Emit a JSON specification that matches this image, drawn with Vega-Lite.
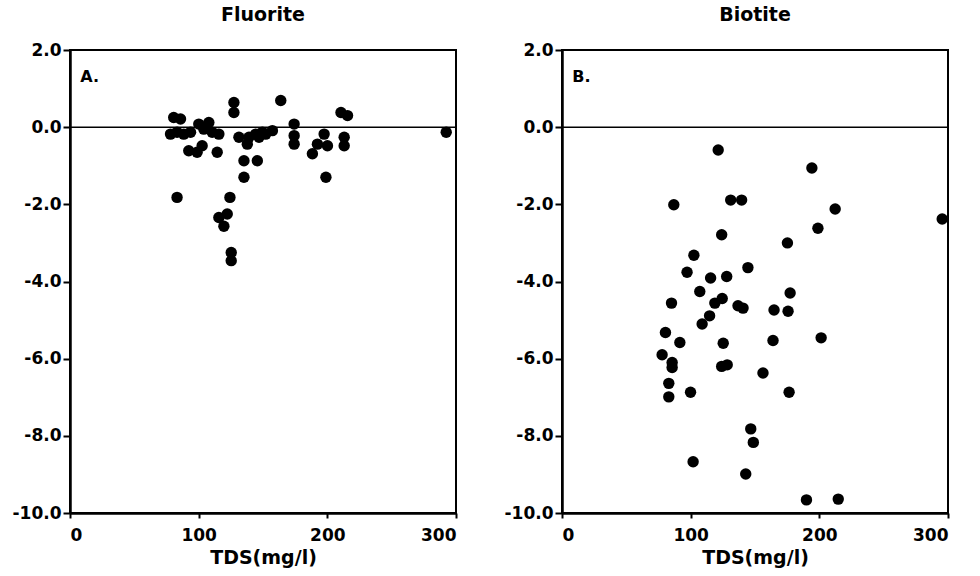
{
  "$schema": "https://vega.github.io/schema/vega-lite/v6.json",
  "background": "white",
  "padding": {"left": 11, "top": 5, "right": 5, "bottom": 5},
  "bounds": "flush",
  "spacing": 106,
  "config": {
    "font": "DejaVu Sans",
    "view": {"stroke": "black", "strokeWidth": 2},
    "axis": {
      "grid": false,
      "domainColor": "black",
      "domainWidth": 2.5,
      "tickColor": "black",
      "tickWidth": 2,
      "labelColor": "black",
      "labelFont": "DejaVu Sans",
      "labelFontWeight": "bold",
      "labelFontSize": 17,
      "titleColor": "black",
      "titleFont": "DejaVu Sans",
      "titleFontWeight": "bold",
      "titleFontSize": 19
    },
    "title": {"font": "DejaVu Sans", "fontWeight": "bold", "fontSize": 19, "color": "black", "offset": 16}
  },
  "datasets": {
    "fluorite": [
      {"tds": 80.6, "si": 0.25}, {"tds": 85.9, "si": 0.21}, {"tds": 78.1, "si": -0.18}, {"tds": 83.2, "si": -0.13},
      {"tds": 88.4, "si": -0.18}, {"tds": 93.7, "si": -0.13}, {"tds": 100.1, "si": 0.08}, {"tds": 107.9, "si": 0.12},
      {"tds": 104.0, "si": -0.05}, {"tds": 110.5, "si": -0.13}, {"tds": 115.7, "si": -0.18}, {"tds": 92.3, "si": -0.61},
      {"tds": 98.8, "si": -0.65}, {"tds": 102.7, "si": -0.48}, {"tds": 114.4, "si": -0.65}, {"tds": 127.4, "si": 0.64},
      {"tds": 127.4, "si": 0.38}, {"tds": 131.3, "si": -0.26}, {"tds": 137.8, "si": -0.44}, {"tds": 139.1, "si": -0.26},
      {"tds": 144.3, "si": -0.18}, {"tds": 149.5, "si": -0.13}, {"tds": 135.2, "si": -0.87}, {"tds": 145.6, "si": -0.87},
      {"tds": 135.2, "si": -1.30}, {"tds": 146.9, "si": -0.26}, {"tds": 152.1, "si": -0.18}, {"tds": 157.3, "si": -0.09},
      {"tds": 163.8, "si": 0.69}, {"tds": 174.2, "si": 0.08}, {"tds": 174.2, "si": -0.22}, {"tds": 174.2, "si": -0.44},
      {"tds": 197.5, "si": -0.18}, {"tds": 192.3, "si": -0.44}, {"tds": 200.1, "si": -0.48}, {"tds": 188.4, "si": -0.69},
      {"tds": 210.6, "si": 0.38}, {"tds": 215.7, "si": 0.30}, {"tds": 213.1, "si": -0.26}, {"tds": 213.1, "si": -0.48},
      {"tds": 198.9, "si": -1.30}, {"tds": 292.4, "si": -0.13}, {"tds": 83.2, "si": -1.82}, {"tds": 124.3, "si": -1.82},
      {"tds": 115.7, "si": -2.34}, {"tds": 122.2, "si": -2.25}, {"tds": 119.6, "si": -2.57}, {"tds": 125.3, "si": -3.25},
      {"tds": 125.3, "si": -3.46}
    ],
    "biotite": [
      {"tds": 121.4, "si": -0.59}, {"tds": 86.9, "si": -2.01}, {"tds": 131.1, "si": -1.89}, {"tds": 139.6, "si": -1.89},
      {"tds": 124.1, "si": -2.79}, {"tds": 102.5, "si": -3.32}, {"tds": 97.2, "si": -3.76}, {"tds": 115.5, "si": -3.91},
      {"tds": 128.0, "si": -3.87}, {"tds": 144.5, "si": -3.64}, {"tds": 107.1, "si": -4.26}, {"tds": 85.1, "si": -4.56},
      {"tds": 118.8, "si": -4.56}, {"tds": 124.5, "si": -4.44}, {"tds": 136.8, "si": -4.63}, {"tds": 140.7, "si": -4.69},
      {"tds": 114.7, "si": -4.89}, {"tds": 108.9, "si": -5.10}, {"tds": 80.4, "si": -5.32}, {"tds": 91.6, "si": -5.58},
      {"tds": 77.8, "si": -5.90}, {"tds": 85.6, "si": -6.10}, {"tds": 85.6, "si": -6.23}, {"tds": 125.3, "si": -5.60},
      {"tds": 124.1, "si": -6.20}, {"tds": 128.4, "si": -6.16}, {"tds": 83.0, "si": -6.64}, {"tds": 83.0, "si": -6.99},
      {"tds": 99.9, "si": -6.87}, {"tds": 146.7, "si": -7.82}, {"tds": 148.7, "si": -8.17}, {"tds": 101.9, "si": -8.67},
      {"tds": 142.8, "si": -8.99}, {"tds": 194.2, "si": -1.06}, {"tds": 212.3, "si": -2.12}, {"tds": 198.9, "si": -2.62},
      {"tds": 175.2, "si": -3.00}, {"tds": 295.5, "si": -2.38}, {"tds": 177.3, "si": -4.30}, {"tds": 164.8, "si": -4.74},
      {"tds": 175.7, "si": -4.77}, {"tds": 164.0, "si": -5.53}, {"tds": 201.4, "si": -5.46}, {"tds": 156.2, "si": -6.37},
      {"tds": 176.5, "si": -6.87}, {"tds": 190.0, "si": -9.66}, {"tds": 214.7, "si": -9.64}
    ]
  },
  "hconcat": [
    {
      "width": 386,
      "height": 463,
      "title": {"text": "Fluorite"},
      "layer": [
        {
          "data": {"values": [{}]},
          "mark": {"type": "rule", "color": "black", "strokeWidth": 1.5},
          "encoding": {"y": {"datum": 0, "type": "quantitative"}}
        },
        {
          "data": {"values": [{}]},
          "mark": {"type": "text", "align": "left", "baseline": "middle", "font": "DejaVu Sans", "fontWeight": "bold", "fontSize": 16, "color": "black"},
          "encoding": {"x": {"datum": 8, "type": "quantitative"}, "y": {"datum": 1.3, "type": "quantitative"}, "text": {"value": "A."}}
        },
        {
          "data": {"name": "fluorite"},
          "mark": {"type": "circle", "color": "black", "opacity": 1, "size": 130},
          "encoding": {
            "x": {"field": "tds", "type": "quantitative", "scale": {"domain": [0, 300], "nice": false, "zero": false},
                  "axis": {"values": [0, 100, 200, 300], "tickSize": 5, "labelPadding": 9, "titlePadding": 5, "title": "TDS(mg/l)"}},
            "y": {"field": "si", "type": "quantitative", "scale": {"domain": [-10, 2], "nice": false, "zero": false},
                  "axis": {"values": [-10, -8, -6, -4, -2, 0, 2], "labelExpr": "datum.value + '.0'", "tickSize": 7, "labelPadding": 2, "title": null}}
          }
        }
      ]
    },
    {
      "width": 386,
      "height": 463,
      "title": {"text": "Biotite"},
      "layer": [
        {
          "data": {"values": [{}]},
          "mark": {"type": "rule", "color": "black", "strokeWidth": 1.5},
          "encoding": {"y": {"datum": 0, "type": "quantitative"}}
        },
        {
          "data": {"values": [{}]},
          "mark": {"type": "text", "align": "left", "baseline": "middle", "font": "DejaVu Sans", "fontWeight": "bold", "fontSize": 16, "color": "black"},
          "encoding": {"x": {"datum": 8, "type": "quantitative"}, "y": {"datum": 1.3, "type": "quantitative"}, "text": {"value": "B."}}
        },
        {
          "data": {"name": "biotite"},
          "mark": {"type": "circle", "color": "black", "opacity": 1, "size": 130},
          "encoding": {
            "x": {"field": "tds", "type": "quantitative", "scale": {"domain": [0, 300], "nice": false, "zero": false},
                  "axis": {"values": [0, 100, 200, 300], "tickSize": 5, "labelPadding": 9, "titlePadding": 5, "title": "TDS(mg/l)"}},
            "y": {"field": "si", "type": "quantitative", "scale": {"domain": [-10, 2], "nice": false, "zero": false},
                  "axis": {"values": [-10, -8, -6, -4, -2, 0, 2], "labelExpr": "datum.value + '.0'", "tickSize": 7, "labelPadding": 2, "title": null}}
          }
        }
      ]
    }
  ]
}
